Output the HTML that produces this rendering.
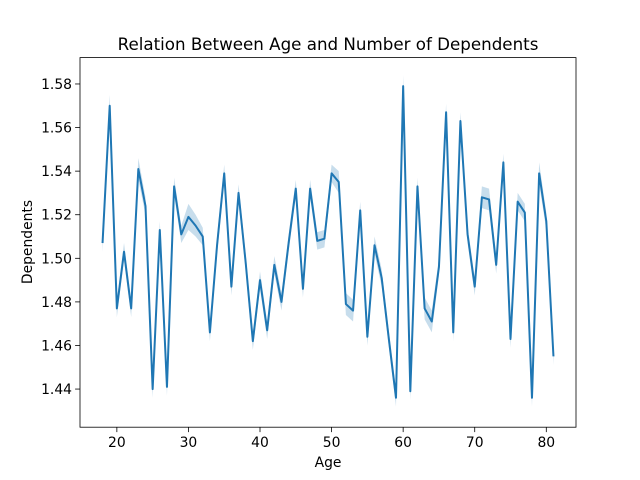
<!DOCTYPE html>
<html><head><meta charset="utf-8"><style>
body{margin:0;background:#fff;}
svg{display:block;font-family:"DejaVu Sans","Liberation Sans",sans-serif;}
</style></head><body>
<svg id="chart" width="640" height="480">
<rect width="640" height="480" fill="#fff"/>
<text x="328" y="50" text-anchor="middle" font-size="16.7">Relation Between Age and Number of Dependents</text>
<g id="plot"></g>
<rect x="80" y="57.6" width="496" height="369.6" fill="none" stroke="#000" stroke-width="0.8"/>
<text x="328" y="467" text-anchor="middle" font-size="13.9">Age</text>
<text transform="translate(32,242) rotate(-90)" text-anchor="middle" font-size="13.9">Dependents</text>
</svg>
<script>
const ages = [];
for (let a = 18; a <= 81; a++) ages.push(a);
const means = [1.507,1.570,1.477,1.503,1.477,1.541,1.524,1.440,1.513,1.441,1.533,1.511,1.519,1.515,1.510,1.466,1.506,1.539,1.487,1.530,1.498,1.462,1.490,1.467,1.497,1.480,1.507,1.532,1.486,1.532,1.508,1.509,1.539,1.535,1.479,1.476,1.522,1.464,1.506,1.491,1.463,1.436,1.579,1.439,1.533,1.477,1.471,1.496,1.567,1.466,1.563,1.511,1.487,1.528,1.527,1.497,1.544,1.463,1.526,1.521,1.436,1.539,1.517,1.455];
const ciHalf = [0.004,0.005,0.004,0.004,0.004,0.005,0.004,0.004,0.004,0.004,0.004,0.004,0.006,0.005,0.004,0.004,0.004,0.004,0.004,0.004,0.004,0.004,0.004,0.004,0.004,0.004,0.004,0.004,0.004,0.004,0.004,0.004,0.004,0.005,0.005,0.005,0.004,0.004,0.004,0.004,0.004,0.004,0.005,0.004,0.004,0.005,0.005,0.004,0.004,0.004,0.004,0.004,0.004,0.005,0.005,0.004,0.004,0.004,0.004,0.004,0.004,0.005,0.004,0.004];
const xTicks = [20,30,40,50,60,70,80];
const yTicks = [1.44,1.46,1.48,1.50,1.52,1.54,1.56,1.58];
const yTickLabels = ["1.44","1.46","1.48","1.50","1.52","1.54","1.56","1.58"];

const L=80,R=576,T=57.6,B=427.2;
const xMin=14.85,xMax=84.15;
const yMin=1.4225,yMax=1.5921;
const xs=v=>L+(v-xMin)/(xMax-xMin)*(R-L);
const ys=v=>B-(v-yMin)/(yMax-yMin)*(B-T);
const NS="http://www.w3.org/2000/svg";
const svg=document.getElementById('chart');
const plot=document.getElementById('plot');
function mk(t,attrs,parent){const e=document.createElementNS(NS,t);for(const k in attrs)e.setAttribute(k,attrs[k]);(parent||svg).appendChild(e);return e;}

let up=ages.map((a,i)=>xs(a)+","+ys(means[i]+ciHalf[i]));
let lo=ages.map((a,i)=>xs(a)+","+ys(means[i]-ciHalf[i])).reverse();
const band=mk('polygon',{points:up.concat(lo).join(' '),fill:'#1f77b4','fill-opacity':0.25,stroke:'none'},plot);


const line=mk('polyline',{points:ages.map((a,i)=>xs(a)+","+ys(means[i])).join(' '),fill:'none',stroke:'#1f77b4','stroke-width':2,'stroke-linejoin':'round'},plot);



xTicks.forEach(t=>{
  const x=xs(t);
  const tk=mk('line',{x1:x,x2:x,y1:B,y2:B+4.9,stroke:'#000','stroke-width':0.8});
  
  
  const lb=mk('text',{x:x,y:B+20,'text-anchor':'middle','font-size':13.9});
  lb.textContent=t;
  
  
});
yTicks.forEach((t,i)=>{
  const y=ys(t);
  const tk=mk('line',{x1:L-4.9,x2:L,y1:y,y2:y,stroke:'#000','stroke-width':0.8});
  
  
  const lb=mk('text',{x:L-8,y:y+5,'text-anchor':'end','font-size':13.9});
  lb.textContent=yTickLabels[i];
  
  
});
</script>
</body></html>
